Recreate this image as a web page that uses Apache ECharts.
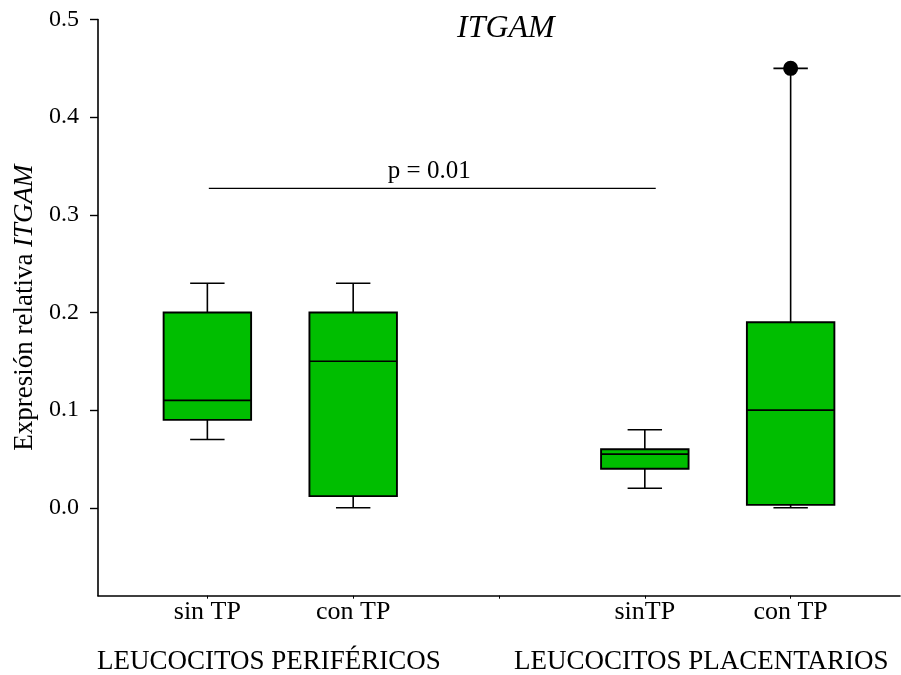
<!DOCTYPE html>
<html>
<head>
<meta charset="utf-8">
<script src="https://cdn.jsdelivr.net/npm/echarts@6/dist/echarts.min.js"></script>
<style>
  html, body { margin: 0; padding: 0; background: #fff; }
  #chart { width: 901px; height: 675px; }
</style>
</head>
<body>
<div id="chart"></div>
<script>
// Group names and their slots along the horizontal axis
const groupNames = ['sin TP', 'con TP', 'sinTP', 'con TP'];
const groupSlots = [1, 2, 4, 5];
const slotTicks = [1, 2, 3, 4, 5];

// Box-plot statistics per group
const whiskerLow  = [0.07, 0.000, 0.020, 0.000];
const quartile1   = [0.09, 0.012, 0.040, 0.003];
const medians     = [0.11, 0.150, 0.055, 0.100];
const quartile3   = [0.20, 0.200, 0.060, 0.190];
const whiskerHigh = [0.23, 0.230, 0.080, 0.450];

// Outlying observations: [slot, value]
const outlierPoints = [[5, 0.45]];

// Value-axis tick labels
const yTicks = [0.0, 0.1, 0.2, 0.3, 0.4, 0.5];

// Significance bracket between the two sin TP groups
const sigSpan = [1.01, 4.075];
const sigLevel = 0.327;
const sigText = 'p = 0.01';

// Tissue captions under the axis
const tissueNames = ['LEUCOCITOS PERIFÉRICOS', 'LEUCOCITOS PLACENTARIOS'];

const FONT = "'Liberation Serif', 'Times New Roman', serif";
const GREEN = '#00BE00';
const BOX_W = 0.6;
const CAP_W = 0.236;

const boxData = groupSlots.map((s, i) => [s, whiskerLow[i], quartile1[i], medians[i], quartile3[i], whiskerHigh[i]]);

function renderBox(params, api) {
  const x = api.value(0);
  const lo = api.coord([x, api.value(1)]);
  const b1 = api.coord([x, api.value(2)]);
  const md = api.coord([x, api.value(3)]);
  const b3 = api.coord([x, api.value(4)]);
  const hi = api.coord([x, api.value(5)]);
  const halfBox = api.size([BOX_W, 0])[0] / 2;
  const halfCap = api.size([CAP_W, 0])[0] / 2;
  const cx = lo[0];
  const stroke = { stroke: '#000', lineWidth: 1.6, fill: null };
  return {
    type: 'group',
    children: [
      { type: 'line', shape: { x1: cx, y1: b3[1], x2: cx, y2: hi[1] }, style: stroke },
      { type: 'line', shape: { x1: cx - halfCap, y1: hi[1], x2: cx + halfCap, y2: hi[1] }, style: stroke },
      { type: 'line', shape: { x1: cx, y1: b1[1], x2: cx, y2: lo[1] }, style: stroke },
      { type: 'line', shape: { x1: cx - halfCap, y1: lo[1], x2: cx + halfCap, y2: lo[1] }, style: stroke },
      { type: 'rect', shape: { x: cx - halfBox, y: b3[1], width: halfBox * 2, height: b1[1] - b3[1] },
        style: { fill: GREEN, stroke: '#000', lineWidth: 1.9 } },
      { type: 'line', shape: { x1: cx - halfBox, y1: md[1], x2: cx + halfBox, y2: md[1] }, style: stroke }
    ]
  };
}

const chart = echarts.init(document.getElementById('chart'), null, { renderer: 'canvas' });

chart.setOption({
  backgroundColor: '#fff',
  animation: false,
  title: {
    text: 'ITGAM',
    left: 452,
    top: 8,
    textStyle: { fontFamily: FONT, fontStyle: 'italic', fontWeight: 'normal', fontSize: 32, color: '#000' }
  },
  grid: { left: 98, right: 1, top: 19.5, bottom: 79.3, outerBoundsMode: 'none' },
  xAxis: {
    type: 'value',
    min: 0.25,
    max: 5.75,
    splitLine: { show: false },
    axisLine: { onZero: false, lineStyle: { color: '#000', width: 1.6 } },
    axisTick: { show: true, length: 3, customValues: slotTicks, lineStyle: { color: '#000', width: 1 } },
    axisLabel: {
      customValues: groupSlots,
      formatter: v => groupNames[groupSlots.indexOf(v)] || '',
      fontFamily: FONT, fontSize: 26, color: '#000', margin: 3
    }
  },
  yAxis: {
    type: 'value',
    min: -0.09,
    max: 0.5,
    name: 'Expresión relativa {i|ITGAM}',
    nameLocation: 'middle',
    nameGap: 60,
    nameTextStyle: {
      fontFamily: FONT, fontSize: 27, color: '#000',
      rich: { i: { fontFamily: FONT, fontSize: 27, fontStyle: 'italic', color: '#000' } }
    },
    splitLine: { show: false },
    axisLine: { onZero: false, lineStyle: { color: '#000', width: 1.6 } },
    axisTick: { show: true, length: 8, customValues: yTicks, lineStyle: { color: '#000', width: 1.4 } },
    axisLabel: {
      customValues: yTicks,
      formatter: v => v.toFixed(1),
      fontFamily: FONT, fontSize: 24, color: '#000', margin: 19
    }
  },
  graphic: [
    { type: 'text', left: 97, top: 648, style: { text: tissueNames[0], font: '27px ' + FONT, fill: '#000' } },
    { type: 'text', left: 514, top: 648, style: { text: tissueNames[1], font: '27px ' + FONT, fill: '#000' } }
  ],
  series: [
    {
      type: 'custom',
      renderItem: renderBox,
      data: boxData,
      encode: { x: 0, y: [1, 2, 3, 4, 5] },
      silent: true,
      z: 2
    },
    {
      type: 'scatter',
      data: outlierPoints,
      symbol: 'circle',
      symbolSize: 15,
      itemStyle: { color: '#000', opacity: 1 },
      silent: true,
      z: 3
    },
    {
      type: 'line',
      data: sigSpan.map(x => [x, sigLevel]),
      showSymbol: false,
      symbol: 'none',
      lineStyle: { color: '#000', width: 1.3 },
      silent: true,
      z: 2
    },
    {
      type: 'custom',
      data: [[(sigSpan[0] + sigSpan[1]) / 2, sigLevel]],
      renderItem: (params, api) => {
        const p = api.coord([api.value(0), api.value(1)]);
        return {
          type: 'text',
          x: p[0] - 3,
          y: p[1] - 5,
          style: { text: sigText, font: '25px ' + FONT, fill: '#000', align: 'center', verticalAlign: 'bottom' }
        };
      },
      silent: true
    }
  ]
});
</script>
</body>
</html>
